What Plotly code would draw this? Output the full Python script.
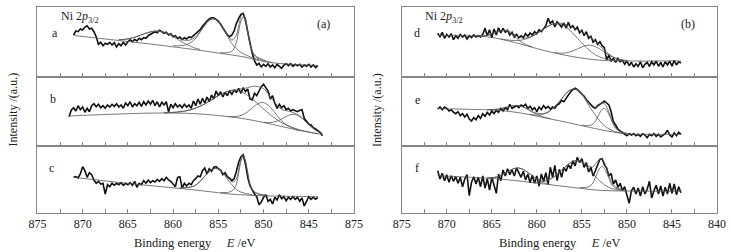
import plotly.graph_objects as go

W, H = 731, 252

# ---------------- energy grids (eV) ----------------
E_GRID = [871, 870.75, 870.5, 870.25, 870, 869.75, 869.5, 869.25, 869, 868.75, 868.5, 868.25,
          868, 867.75, 867.5, 867.25, 867, 866.75, 866.5, 866.25, 866, 865.75, 865.5, 865.25,
          865, 864.75, 864.5, 864.25, 864, 863.75, 863.5, 863.25, 863, 862.75, 862.5, 862.25,
          862, 861.75, 861.5, 861.25, 861, 860.75, 860.5, 860.25, 860, 859.75, 859.5, 859.25,
          859, 858.75, 858.5, 858.25, 858, 857.75, 857.5, 857.25, 857, 856.75, 856.5, 856.25,
          856, 855.75, 855.5, 855.25, 855, 854.75, 854.5, 854.25, 854, 853.75, 853.5, 853.25,
          853, 852.75, 852.5, 852.25, 852, 851.75, 851.5, 851.25, 851, 850.75, 850.5, 850.25,
          850, 849.75, 849.5, 849.25, 849, 848.75, 848.5, 848.25, 848, 847.75, 847.5, 847.25,
          847, 846.75, 846.5, 846.25, 846, 845.75, 845.5, 845.25, 845, 844.75, 844.5, 844.25,
          844]
E_GRID_B = [871.5, 871.25] + E_GRID + [843.75, 843.5]

# ---------------- measured spectra (a.u.) ----------------
SPEC_A = [42, 46, 45.3, 48, 47, 50, 51.3, 48, 48.7, 45.3, 40.3, 32.7,
          34.7, 31.3, 33.7, 32.7, 34.7, 32, 34.3, 30, 33.3, 31.3, 34.7, 32,
          35.3, 37.3, 35.3, 37.7, 36, 38.7, 37.3, 39.3, 38.7, 41.3, 42.7, 44,
          45.3, 44.3, 46.7, 45.3, 43.7, 44.7, 42, 43.3, 40.3, 41.3, 38.7, 40,
          37.3, 39.3, 38, 40, 39.3, 41.3, 43.3, 45.3, 47.3, 50.7, 53.7, 56,
          58, 59.3, 59.3, 58, 56, 52.7, 49.3, 44.7, 42, 40.3, 42, 46,
          53.7, 58.7, 62.7, 63.7, 57, 45.3, 33.7, 23.7, 16, 12, 13.7, 10,
          12.7, 10.7, 13.3, 10, 12, 9.3, 12.7, 10.7, 8.7, 12, 13.3, 11.3,
          13.3, 10.7, 12.7, 11.3, 12.7, 10, 12, 10.7, 12.7, 10, 12, 9.3,
          11.3]
SPEC_B = [29.3, 36,
          38.3, 35, 40.3, 36.3, 39, 33.7, 37.7, 34.3, 40.3, 42.3, 39.3, 41.7,
          38.3, 40.3, 37.7, 41, 39, 41.7, 39.7, 42.3, 39, 41, 37.7, 43,
          40.3, 44.3, 39, 42.3, 40.3, 43.7, 39.7, 44.3, 41, 45, 41.7, 45.7,
          40.3, 44.3, 39, 43.7, 41, 44.3, 34.3, 41.7, 38.3, 42.3, 39, 41,
          38.3, 41.7, 39, 41, 37.7, 45, 40.3, 47, 41.7, 47.7, 43, 49,
          44.3, 51, 47, 55, 50.3, 54.3, 49, 53.7, 50.3, 55, 51.7, 55.7,
          53.7, 57.7, 52.7, 58.3, 54.3, 57, 47, 46, 52.7, 50.3, 55, 59.3,
          61.7, 57.7, 55, 47, 50.3, 42.7, 37.7, 41.7, 38.3, 40.3, 36.3, 37.7,
          35, 36.3, 35, 34.3, 35.7, 36.3, 27.7, 24.3, 21.7, 21, 18.3, 17,
          15, 13.7, 10.3]
SPEC_C = [35.7, 36.3, 35, 39, 46.3, 42.3, 35.7, 40.3, 38.3, 33, 29.7, 31.7,
          29, 29.7, 19, 28.3, 26.3, 29.7, 27.7, 29.7, 28.3, 30.3, 27.7, 29.7,
          28.3, 30.3, 27.7, 31.7, 25.7, 29.7, 28.3, 32.3, 29.7, 33, 30.3, 32.3,
          31, 33.7, 31.7, 34.3, 32.3, 35.7, 33, 31.7, 29, 26.3, 35.7, 36.3,
          25, 29.7, 27, 29.7, 28.3, 32.3, 34.3, 37, 36.3, 42.3, 45, 39,
          44.3, 41.7, 45.7, 46.3, 44.3, 43, 38.3, 40.3, 36.3, 35, 32.3, 34.3,
          41.7, 50.7, 56.3, 58.3, 49, 35.7, 27.3, 22.3, 19, 16.3, 8.3, 11,
          15.7, 18.3, 11.7, 13.7, 9, 15.7, 13, 18.3, 14.3, 16.3, 12.3, 15.7,
          13.7, 16.3, 13.7, 15.7, 11.7, 15, 7, 11.7, 16.3, 13.7, 15.7, 13.7,
          15.7]
SPEC_D = [43.7, 40.3, 44.7, 38.7, 42.7, 40, 43.3, 37.3, 41.3, 38.7, 42.7, 40,
          42, 38, 41.3, 39.3, 42, 40, 41.3, 40, 42.7, 48.7, 41.3, 47.3,
          39.3, 48, 42, 49.3, 44, 48.7, 44.7, 46.7, 42, 44.7, 40, 42.7,
          39.3, 41.3, 39.3, 43.3, 40.7, 44, 42, 45.3, 43.3, 47.3, 45.3, 48.7,
          51.3, 58.7, 53.7, 56, 50, 55.3, 52.7, 50, 54, 48.7, 54.7, 49.3,
          51.3, 47.3, 50, 44, 46.7, 41.3, 45.3, 38.7, 40.7, 34.7, 37.3, 32.7,
          35.3, 31.3, 29.3, 17, 22, 16, 18.7, 14.7, 18.7, 15.3, 16.7, 12.7,
          16, 11.3, 14.7, 10, 13.3, 10.7, 15.3, 9.3, 12.7, 14.7, 10.7, 15.3,
          12, 16, 10.7, 14.7, 10, 15.3, 12, 16, 10.7, 16.7, 12, 15.3,
          14]
SPEC_E = [37, 39, 36.3, 39, 37.7, 35, 36.3, 33.7, 32.3, 34.3, 30.3, 32.3,
          29, 31.7, 27, 25, 28.3, 26.3, 30.3, 27.7, 32.3, 29.7, 33.7, 31,
          35, 32.3, 35.7, 33.7, 37.7, 35, 38.3, 36.3, 41.7, 37.7, 39, 40.3,
          38.3, 41, 39.7, 41.7, 37.7, 39.7, 36.3, 38.3, 34.3, 39, 36.3, 40.3,
          37.7, 39.7, 37, 39, 37.7, 41, 42.3, 45.7, 44.3, 47.7, 50.3, 54.3,
          56.3, 57.7, 56.3, 54.3, 52.3, 49.7, 46.3, 43.7, 41, 39, 37.7, 40.3,
          41.7, 43.7, 45, 43, 41, 34.3, 24.3, 21, 17, 15, 13.7, 12.3,
          10.3, 12.3, 11, 12.3, 10.3, 11.7, 9.7, 12.3, 11, 8.3, 11.7, 10.3,
          12.3, 9.7, 11.7, 9, 11, 12.3, 15.7, 11, 9, 13, 10.3, 13.7,
          11.7]
SPEC_F = [42.3, 34, 39.7, 32.3, 38.3, 30.7, 37.3, 31.7, 36.3, 29.7, 35.7, 26.3,
          34, 38.3, 17.3, 30.7, 36.3, 29, 35.7, 26.3, 37, 25, 34.3, 23,
          35.7, 28.3, 19.7, 39, 32.3, 43, 37, 44.3, 38.3, 43, 37, 45,
          41, 35.7, 41.7, 33, 39, 30.3, 37.7, 29.7, 37, 27, 39, 31.7,
          40.3, 29, 45.7, 35.7, 47.7, 32.3, 43.7, 35.7, 45.7, 41.7, 48.3, 44.3,
          52.3, 47, 55.7, 50.3, 54.3, 45.7, 50.3, 41, 45.7, 37, 42.3, 49,
          53.7, 54.3, 48.3, 45, 37, 39.7, 29, 33, 25.7, 29.7, 22.3, 26.3,
          19, 9.7, 22.3, 25.7, 19, 25, 17, 26.3, 19, 23.7, 31.7, 15,
          22.3, 27.7, 19, 27, 17, 25.7, 19, 29.7, 19.7, 29, 18.3, 26.3,
          20.3]

# ---------------- fitted curves (a.u.) ----------------
A_BG_E = [871, 869, 867, 865, 863, 861, 859, 857, 855, 853, 852, 851, 850, 849, 847, 844]
A_BG = [41.5, 39.5, 37.5, 35.5, 33.5, 31.3, 29, 26.6, 24, 21.3, 19.8, 17.5, 15.5, 14.2, 12.7, 11.5]
A1_E = [866, 865.5, 865, 864.5, 864, 863.5, 863, 862.5, 862, 861.5, 861, 860.5, 860,
        859.5, 859, 858.5, 858, 857.5, 857]
A1 = [37.4, 37.5, 38.1, 39.1, 40.5, 42.1, 43.8, 45.15, 45.9, 45.85, 44.8, 42.95, 40.5,
      37.7, 35, 32.5, 30.4, 28.7, 27.5]
A2_E = [860, 859.5, 859, 858.5, 858, 857.5, 857, 856.5, 856, 855.5, 855, 854.5, 854,
        853.5, 853, 852.5, 852, 851.5, 851, 850.5]
A2 = [31.3, 31.2, 31.5, 32.4, 34.8, 38.5, 44.9, 51.45, 56.6, 58.15, 55.3, 48.85, 41,
      33.3, 28.3, 24.55, 22.3, 20.25, 18.6, 17.3]
A3_E = [854.75, 854.5, 854.25, 854, 853.75, 853.5, 853.25, 853, 852.75, 852.5, 852.25,
        852, 851.75, 851.5, 851.25, 851, 850.75, 850.5, 850.25, 850, 849.75]
A3 = [24.4, 24.25, 24.2, 24.4, 24.85, 25.6, 28.45, 34.9, 45.7, 56.05, 60.2,
      55.3, 44, 32.25, 24.9, 21.1, 19.5, 18.2, 17.2, 16.4, 15.9]
A_ENV_E = [866, 865.5, 865, 864.5, 864, 863.5, 863, 862.5, 862, 861.5, 861, 860.5, 860,
           859.5, 859, 858.5, 858, 857.5, 857, 856.5, 856, 855.5, 855, 854.5, 854, 853.5,
           853, 852.75, 852.5, 852.25, 852, 851.75, 851.5, 851.25, 851, 850.5, 850, 849.5, 849]
A_ENV = [37.4, 37.5, 38.1, 39.1, 40.5, 42.1, 43.8, 45.15, 45.9, 45.85, 44.8, 42.95, 41.6,
         39.3, 37.5, 36.5, 37.4, 40, 45.8, 51.95, 56.9, 58.15, 55.3, 49.75, 42.7, 36.9,
         41.9, 51.2, 60.05, 63.4, 57.8, 46, 33.85, 26.2, 22.2, 19, 17, 15.35, 14.2]

B_BG_E = [871.5, 869, 866, 863, 860, 858, 856, 854, 852, 850, 848, 846, 844.5, 843.5]
B_BG = [30, 31, 32, 32.8, 33, 32.5, 31.3, 29.5, 27, 23.5, 19.5, 15.5, 13, 11.5]
B1_E = [861, 860, 859, 858, 857, 856, 855, 854, 853, 852, 851, 850, 849, 848, 847, 846, 845, 844]
B1 = [33.2, 33.6, 34.5, 36.4, 39.8, 44.8, 50.3, 54.5, 55.3, 52, 45.1, 37, 29.4, 23.4, 19.2,
      16.1, 14.0, 12.4]
B2_E = [854, 853.5, 853, 852.5, 852, 851.5, 851, 850.5, 850, 849.5, 849, 848.5, 848, 847.5,
        847, 846.5, 846]
B2 = [29.65, 29.35, 29.55, 30.5, 32.8, 36.1, 40, 42.9, 43.5, 41, 36.2, 30.5, 25.3, 21.4,
      18.75, 16.96, 15.65]
B3_E = [850, 849.5, 849, 848.5, 848, 847.5, 847, 846.5, 846, 845.5, 845, 844.5, 844, 843.5]
B3 = [23.85, 23.45, 23.7, 24.9, 27, 29.5, 31.4, 31.5, 29.4, 25.65, 21.3, 17.4, 14.45, 12.45]
B_ENV_E = [861, 860, 859, 858, 857, 856, 855, 854, 853, 852, 851, 850, 849, 848, 847, 846,
           845, 844, 843.5]
B_ENV = [33.2, 33.6, 34.5, 36.4, 39.8, 44.8, 50.3, 54.65, 56.55, 57.8, 59.8, 57.35, 46.3,
         36.7, 34.35, 30.15, 21.5, 14.6, 12.5]

C_BG_E = [871, 865, 860, 858, 856, 854, 852, 850, 847, 844]
C_BG = [35.7, 29.6, 25.2, 23.4, 21.4, 19.2, 18, 17.2, 16.7, 16.3]
C1_E = [859.25, 858.75, 858.25, 857.75, 857.25, 856.75, 856.25, 855.75, 855.25, 854.75,
        854.25, 853.75, 853.25, 852.75, 852.25, 851.75, 851.25]
C1 = [25.2, 25.3, 25.6, 26.7, 29.7, 34.2, 39.3, 43.3, 44.6, 42.2, 37.1, 31.05, 25.75, 21.95,
      20.15, 19.1, 18.4]
C2_E = [854.75, 854.5, 854.25, 854, 853.75, 853.5, 853.25, 853, 852.75, 852.5, 852.25,
        852, 851.75, 851.5, 851.25, 851, 850.75, 850.5, 850.25, 850, 849.75]
C2 = [20.5, 20.45, 20.4, 20.5, 21.05, 22.1, 24.25, 28.9, 39.85, 51.4, 56.15, 51.1, 39.3,
      28.1, 23.2, 20.8, 19.5, 18.7, 18.2, 17.9, 17.65]
C_ENV_E = [859.25, 858.75, 858.25, 857.75, 857.25, 856.75, 856.25, 855.75, 855.25, 854.75,
           854.25, 853.75, 853.5, 853.25, 853, 852.75, 852.5, 852.25, 852, 851.75, 851.5,
           851.25, 851, 850.5, 850, 849.5]
C_ENV = [25.2, 25.3, 25.6, 26.7, 29.7, 34.2, 39.3, 43.3, 44.9, 42.7, 38, 33.05, 31.4, 31.25,
         33.9, 43.35, 54, 58.15, 52.6, 40.5, 29.05, 23.9, 21.3, 19, 18.1, 17.5]

D_BG_E = [871, 869, 867, 865.5, 864.5, 863.5, 862.5, 861.5, 860.5, 859.5, 858.5, 857.5, 856.5,
          855.5, 854.5, 853.5, 852.5, 851.5, 850, 847, 844]
D_BG = [41.5, 41.3, 41, 40.2, 38.8, 36.8, 34.6, 32.2, 29.7, 27.2, 25, 23, 21.2, 19.6, 18.3,
        17.2, 16.5, 16.1, 16, 16, 16]
D1_E = [866.5, 866, 865.5, 865, 864.5, 864, 863.5, 863, 862.5, 862, 861.5, 861, 860.5]
D1 = [40.9, 41.05, 41.8, 43.1, 44.9, 46.3, 46.3, 44.2, 40.7, 36.9, 33.8, 31.55, 29.9]
D2_E = [864, 863.5, 863, 862.5, 862, 861.5, 861, 860.5, 860, 859.5, 859, 858.5, 858, 857.5,
        857, 856.5, 856, 855.5, 855, 854.5, 854, 853.5, 853, 852.5, 852, 851.5, 851]
D2 = [38.1, 37.35, 36.8, 36.5, 36.6, 37.3, 38.65, 40.8, 43.45, 46.4, 49.4, 51.8, 53.2, 53,
      51.3, 48, 43.7, 38.8, 33.95, 29.4, 25.45, 22.3, 20.05, 18.4, 17.4, 16.65, 16.3]
D3_E = [858, 857.5, 857, 856.5, 856, 855.5, 855, 854.5, 854, 853.5, 853, 852.5, 852, 851.5,
        851, 850.5, 850]
D3 = [24.4, 23.9, 23.9, 24.6, 26.1, 28.1, 30.05, 31.5, 31.75, 30.4, 27.95, 25, 22, 19.5,
      17.8, 16.87, 16.37]
D_ENV_E = [866.5, 866, 865.5, 865, 864.5, 864, 863.5, 863, 862.5, 862, 861.5, 861, 860.5,
           860, 859.5, 859, 858.5, 858, 857.5, 857, 856.5, 856, 855.5, 855, 854.5, 854,
           853.5, 853, 852.5, 852, 851.5, 851, 850.5, 850]
D_ENV = [40.9, 41.05, 41.8, 43.1, 44.9, 46.6, 46.85, 45.3, 42.6, 40.1, 38.9, 39.25, 41,
         43.45, 46.4, 49.4, 52, 53.6, 53.9, 53.1, 51.4, 49.4, 47.3, 45.05, 42.6, 39.45,
         35.5, 31.15, 26.9, 23.1, 20.05, 18.1, 16.9, 16.37]

E_BG_E = [871, 868, 865, 863.5, 862, 860.5, 859, 857.5, 856, 854.5, 853, 852, 851, 850, 848, 844]
E_BG = [37.3, 36.8, 36, 35, 33.3, 30.8, 28, 25.2, 22.3, 19.3, 16.5, 14.8, 13.2, 12, 11.7, 11.7]
E1_E = [865.5, 865, 864.5, 864, 863.5, 863, 862.5, 862, 861.5, 861, 860.5, 860, 859.5, 859, 858.5]
E1 = [36.46, 36.44, 36.7, 37.35, 38.5, 39.55, 40.35, 40.3, 39, 36.75, 33.8, 31.9, 29.95,
      28.44, 27.2]
E2_E = [860.75, 860.25, 859.75, 859.25, 858.75, 858.25, 857.75, 857.25, 856.75, 856.25,
        855.75, 855.25, 854.75, 854.25, 853.75, 853.25, 852.75, 852.25, 851.75, 851.25, 850.75]
E2 = [31.5, 31.05, 31.05, 31.9, 33.7, 37.5, 41.9, 46.8, 52.65, 56.2, 56.8, 54.2, 48.7, 40.9,
      34.1, 27.85, 22.3, 18.6, 16, 14.3, 13.2]
E3_E = [855, 854.75, 854.5, 854.25, 854, 853.75, 853.5, 853.25, 853, 852.75, 852.5, 852.25,
        852, 851.75, 851.5, 851.25, 851, 850.75, 850.5, 850.25, 850]
E3 = [20.9, 20.6, 20.4, 20.4, 20.85, 22, 24.85, 29.05, 33.3, 36.7, 37.65, 35.8, 31.6, 26.5,
      21.45, 17.7, 15.7, 14.5, 13.7, 13, 12.6]
E_ENV_E = [865.5, 865, 864.5, 864, 863.5, 863, 862.5, 862, 861.5, 861, 860.5, 860, 859.5, 859,
           858.5, 858, 857.5, 857, 856.5, 856, 855.5, 855, 854.5, 854, 853.75, 853.5, 853.25,
           853, 852.75, 852.5, 852.25, 852, 851.75, 851.5, 851.25, 851, 850.5, 850]
E_ENV = [36.46, 36.44, 36.7, 37.35, 38.5, 39.55, 40.35, 40.3, 39, 36.95, 34.25, 32.95, 32.3,
         33.05, 35.4, 39.3, 44.6, 50.1, 54.7, 56.9, 56.2, 52.3, 46.3, 40.25, 38.2, 38.05,
         39.55, 41.5, 42.9, 42.25, 39.1, 33.95, 28.1, 22.55, 18.4, 16.2, 14, 12.6]

F_BG_E = [871, 868, 865, 863, 861, 859, 857, 855, 853.5, 852, 849, 844]
F_BG = [37.3, 36, 34.5, 33, 31, 28.8, 26.6, 24.5, 23, 22.3, 21.9, 21.7]
F1_E = [865.5, 865, 864.5, 864, 863.5, 863, 862.5, 862, 861.5, 861, 860.5, 860, 859.5, 859, 858.5]
F1 = [35.05, 35.3, 36, 37.55, 39.9, 42.55, 44.5, 45, 43.5, 40.55, 36.95, 33.7, 31.25, 29.6, 28.55]
F2_E = [860.5, 860, 859.5, 859, 858.5, 858, 857.5, 857, 856.5, 856, 855.5, 855, 854.5, 854,
        853.5, 853, 852.5, 852, 851.5, 851, 850.5]
F2 = [30.8, 30.7, 31.05, 32.1, 33.95, 36.9, 40.65, 44.9, 48.75, 51.75, 52, 50.7, 46.7, 41.8,
      36.5, 31.95, 28.2, 25.6, 23.95, 23, 22.46]
F3_E = [855.25, 855, 854.75, 854.5, 854.25, 854, 853.75, 853.5, 853.25, 853, 852.75, 852.5,
        852.25, 852, 851.75, 851.5, 851.25, 851, 850.75, 850.5, 850.25]
F3 = [25.35, 25.4, 25.45, 25.7, 26.35, 27.7, 30.25, 35.6, 40.5, 44.95, 46.6, 44.7, 40, 34.9,
      29.27, 26.45, 24.82, 23.9, 23.35, 22.8, 22.45]
F_ENV_E = [865.5, 865, 864.5, 864, 863.5, 863, 862.5, 862, 861.5, 861, 860.5, 860, 859.5, 859,
           858.5, 858, 857.5, 857, 856.5, 856, 855.5, 855, 854.5, 854, 853.75, 853.5, 853.25,
           853, 852.75, 852.5, 852.25, 852, 851.75, 851.5, 851.25, 851, 850.5, 850]
F_ENV = [35.05, 35.3, 36, 37.55, 39.9, 42.55, 44.5, 45, 43.5, 40.55, 37.3, 34.5, 32.95, 32.9,
         34.25, 36.9, 40.65, 44.9, 48.75, 51.75, 52.3, 51.6, 48.4, 46, 46.15, 49.1, 51.8,
         54.15, 54, 50.4, 44.5, 38.2, 31.67, 28.15, 26, 24.7, 23.2, 22.4]

# ---------------- axes / labels ----------------
TICK_VALS = [875, 870, 865, 860, 855, 850, 845, 840]
TICK_TEXT_LEFT = ["875", "870", "865", "860", "855", "850", "845", "875"]
TICK_TEXT_RIGHT = ["875", "870", "865", "860", "855", "850", "845", "840"]
MINOR_STEP = 2.5

panels = [
    ("a", 0, 0, E_GRID, SPEC_A, [(A_BG_E, A_BG), (A1_E, A1), (A2_E, A2), (A3_E, A3), (A_ENV_E, A_ENV)]),
    ("b", 0, 1, E_GRID_B, SPEC_B, [(B_BG_E, B_BG), (B1_E, B1), (B2_E, B2), (B3_E, B3), (B_ENV_E, B_ENV)]),
    ("c", 0, 2, E_GRID, SPEC_C, [(C_BG_E, C_BG), (C1_E, C1), (C2_E, C2), (C_ENV_E, C_ENV)]),
    ("d", 1, 0, E_GRID, SPEC_D, [(D_BG_E, D_BG), (D1_E, D1), (D2_E, D2), (D3_E, D3), (D_ENV_E, D_ENV)]),
    ("e", 1, 1, E_GRID, SPEC_E, [(E_BG_E, E_BG), (E1_E, E1), (E2_E, E2), (E3_E, E3), (E_ENV_E, E_ENV)]),
    ("f", 1, 2, E_GRID, SPEC_F, [(F_BG_E, F_BG), (F1_E, F1), (F2_E, F2), (F3_E, F3), (F_ENV_E, F_ENV)]),
]

X_DOM = [[37.4 / W, 354 / W], [401.7 / W, 717 / W]]
ROW_PX = [(7, 77), (77, 146), (146, 213)]
Y_DOM = [[1 - b / H, 1 - t / H] for (t, b) in ROW_PX]
Y_RANGE = [b - t for (t, b) in ROW_PX]

FONT = "Liberation Serif, Times New Roman, serif"
FRAME = "#858585"
FIT_COLOR = "#555555"
DATA_COLOR = "#111111"

fig = go.Figure()
layout = dict(
    width=W, height=H, margin=dict(l=0, r=0, t=0, b=0, autoexpand=False),
    paper_bgcolor="white", plot_bgcolor="white", showlegend=False,
    font=dict(family=FONT, size=12, color="#222"),
)

for i, (letter, col, row, energy, spec, fits) in enumerate(panels):
    n = i + 1
    xa = "x" if n == 1 else f"x{n}"
    ya = "y" if n == 1 else f"y{n}"
    fig.add_trace(go.Scatter(x=energy, y=spec, mode="lines", xaxis=xa, yaxis=ya,
                             line=dict(color=DATA_COLOR, width=1.6), hoverinfo="skip"))
    for (fe, fv) in fits:
        fig.add_trace(go.Scatter(x=fe, y=fv, mode="lines", xaxis=xa, yaxis=ya,
                                 line=dict(color=FIT_COLOR, width=0.8, shape="spline", smoothing=0.9),
                                 hoverinfo="skip"))
    bottom = row == 2
    layout["xaxis" if n == 1 else f"xaxis{n}"] = dict(
        domain=X_DOM[col], range=[875, 840], anchor=ya, automargin=False,
        showline=True, linecolor=FRAME, linewidth=1, mirror=True,
        ticks="inside", ticklen=4, tickcolor=FRAME, tickwidth=1,
        tickmode="array", tickvals=TICK_VALS,
        ticktext=(TICK_TEXT_LEFT if col == 0 else TICK_TEXT_RIGHT),
        minor=dict(tickmode="linear", tick0=840, dtick=MINOR_STEP, ticks="inside",
                   ticklen=4, tickcolor=FRAME, tickwidth=1, showgrid=False),
        showticklabels=bottom, showgrid=False, zeroline=False,
        tickfont=dict(family=FONT, size=12, color="#222"),
    )
    layout["yaxis" if n == 1 else f"yaxis{n}"] = dict(
        domain=Y_DOM[row], range=[0, Y_RANGE[row]], anchor=xa, automargin=False,
        showline=True, linecolor=FRAME, linewidth=1, mirror=True,
        ticks="", showticklabels=False, showgrid=False, zeroline=False,
    )

fig.update_layout(**layout)

def ann(text, x, y, size=12, xanchor="center", yanchor="middle", angle=0):
    fig.add_annotation(text=text, x=x / W, y=1 - y / H, xref="paper", yref="paper",
                       showarrow=False, xanchor=xanchor, yanchor=yanchor, textangle=angle,
                       font=dict(family=FONT, size=size, color="#222"))

for xoff, tag in [(0, "(a)"), (364.5, "(b)")]:
    ann("Ni 2<i>p</i><sub>3/2</sub>", 58.5 + xoff, 17, xanchor="left")
    ann(tag, 323 + xoff, 24)
    ann("Intensity /(a.u.)", 12.5 + xoff, 110, angle=-90)
    ann("Binding energy&nbsp;&nbsp;&nbsp;&nbsp; <i>E</i> /eV", 195.5 + xoff, 243, size=12.5)

for letter, x, y in [("a", 54.5, 32.5), ("b", 53, 99), ("c", 51.5, 168),
                     ("d", 417, 33), ("e", 417, 100), ("f", 417, 168)]:
    ann(letter, x, y)

fig.write_html("out.html", config={"displayModeBar": False, "staticPlot": True},
               post_script="document.body.style.margin='0';document.body.style.overflow='hidden';")
